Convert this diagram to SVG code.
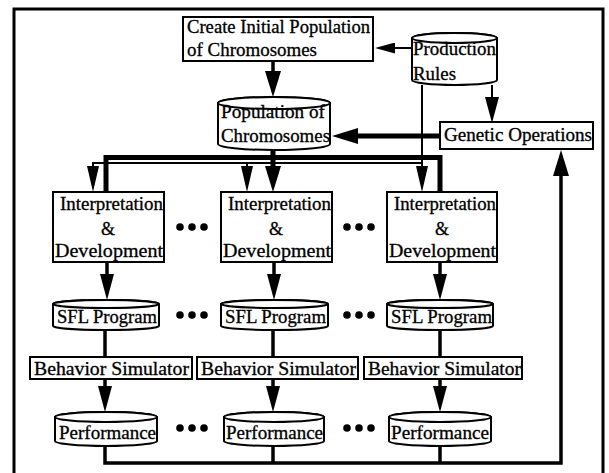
<svg xmlns="http://www.w3.org/2000/svg" width="609" height="473" viewBox="0 0 609 473">
<style>
.box{fill:#fff;stroke:#000;stroke-width:2}
.cyl{fill:#fff;stroke:#000;stroke-width:2}
text{font-family:"Liberation Serif","Times New Roman",serif;font-size:18px;fill:#000;stroke:#000;stroke-width:0.3}
.c{stroke:#000;fill:none;stroke-width:3.5}
.thick{stroke-width:5}
.thin{stroke-width:2}
.dot{fill:#000}
.frame{fill:none;stroke:#000;stroke-width:3}
</style>
<defs>
<marker id="ah" markerUnits="userSpaceOnUse" viewBox="0 0 26 14" refX="0" refY="7" markerWidth="26" markerHeight="14" orient="auto"><path d="M0,0 L26,7 L0,14 Z" fill="#000"/></marker>
<marker id="ahw" markerUnits="userSpaceOnUse" viewBox="0 0 26 16" refX="0" refY="8" markerWidth="26" markerHeight="16" orient="auto"><path d="M0,0 L26,8 L0,16 Z" fill="#000"/></marker>
<marker id="ahn" markerUnits="userSpaceOnUse" viewBox="0 0 26 12" refX="0" refY="6" markerWidth="26" markerHeight="12" orient="auto"><path d="M0,0 L26,6 L0,12 Z" fill="#000"/></marker>
<marker id="ahs" markerUnits="userSpaceOnUse" viewBox="0 0 20 11" refX="0" refY="5.5" markerWidth="20" markerHeight="11" orient="auto"><path d="M0,0 L20,5.5 L0,11 Z" fill="#000"/></marker>
</defs>

<path class="frame" d="M14,475 V9 H603 V475"/>

<g id="connectors">
  <path class="c" d="M273,61 V71" marker-end="url(#ahw)"/>
  <path class="c thin" d="M412,48 H395" marker-end="url(#ahs)"/>
  <path class="c thin" d="M422,85 V166" marker-end="url(#ahn)"/>
  <path class="c thin" d="M422,163 H93 V166" marker-end="url(#ahn)"/>
  <path class="c thin" d="M247,163 V166" marker-end="url(#ahn)"/>
  <path class="c thin" d="M492,85 V97" marker-end="url(#ah)"/>
  <path class="c thick" d="M440,136 H358" marker-end="url(#ahw)"/>
  <path class="c thick" d="M273,150 V166" marker-end="url(#ahw)"/>
  <path class="c thick" d="M106,192 V157.5 H440 V192"/>
  <path class="c" d="M107,262 V274" marker-end="url(#ah)"/>
  <path class="c" d="M274,262 V274" marker-end="url(#ah)"/>
  <path class="c" d="M440,262 V274" marker-end="url(#ah)"/>
  <path class="c" d="M105,330 V357"/>
  <path class="c" d="M273,330 V357"/>
  <path class="c" d="M440,330 V357"/>
  <path class="c" d="M105,379 V386" marker-end="url(#ah)"/>
  <path class="c" d="M273,379 V386" marker-end="url(#ah)"/>
  <path class="c" d="M440,379 V386" marker-end="url(#ah)"/>
  <path class="c" d="M105,446 V463 H561 V176" marker-end="url(#ahw)"/>
  <path class="c" d="M273,446 V463"/>
  <path class="c" d="M440,446 V463"/>
</g>

<g id="create">
  <rect class="box" x="183" y="17" width="190" height="44"/>
  <text x="187" y="33" textLength="183" lengthAdjust="spacingAndGlyphs">Create Initial Population</text>
  <text x="187" y="56" textLength="130" lengthAdjust="spacingAndGlyphs">of Chromosomes</text>
</g>

<g id="production-rules">
  <path class="cyl" d="M412,38 V80 A42.5,5 0 0 0 497,80 V38 A42.5,5 0 0 0 412,38 Z"/>
  <ellipse class="cyl" cx="454.5" cy="38" rx="42.5" ry="5"/>
  <text x="413" y="55" textLength="83" lengthAdjust="spacingAndGlyphs">Production</text>
  <text x="413" y="80" textLength="43" lengthAdjust="spacingAndGlyphs">Rules</text>
</g>

<g id="population">
  <path class="cyl" d="M218,103 V144 A56,6 0 0 0 330,144 V103 A56,6 0 0 0 218,103 Z"/>
  <ellipse class="cyl" cx="274" cy="103" rx="56" ry="6"/>
  <text x="221" y="118" textLength="104" lengthAdjust="spacingAndGlyphs">Population of</text>
  <text x="221" y="142" textLength="109" lengthAdjust="spacingAndGlyphs">Chromosomes</text>
</g>

<g id="genetic-operations">
  <rect class="box" x="440" y="122" width="153" height="27"/>
  <text x="444" y="141" textLength="148" lengthAdjust="spacingAndGlyphs">Genetic Operations</text>
</g>

<g id="interp-1">
  <rect class="box" x="53" y="192" width="111" height="70"/>
  <text x="60" y="210" textLength="103" lengthAdjust="spacingAndGlyphs">Interpretation</text>
  <text x="108" y="235" text-anchor="middle">&amp;</text>
  <text x="55" y="257" textLength="108" lengthAdjust="spacingAndGlyphs">Development</text>
</g>
<g id="interp-2">
  <rect class="box" x="221" y="192" width="111" height="70"/>
  <text x="228" y="210" textLength="103" lengthAdjust="spacingAndGlyphs">Interpretation</text>
  <text x="276" y="235" text-anchor="middle">&amp;</text>
  <text x="223" y="257" textLength="108" lengthAdjust="spacingAndGlyphs">Development</text>
</g>
<g id="interp-3">
  <rect class="box" x="387" y="192" width="110" height="70"/>
  <text x="394" y="210" textLength="102" lengthAdjust="spacingAndGlyphs">Interpretation</text>
  <text x="442" y="235" text-anchor="middle">&amp;</text>
  <text x="389" y="257" textLength="107" lengthAdjust="spacingAndGlyphs">Development</text>
</g>

<g id="sfl-1">
  <path class="cyl" d="M53,304 V326 A53,4 0 0 0 159,326 V304 A53,4 0 0 0 53,304 Z"/>
  <ellipse class="cyl" cx="106" cy="304" rx="53" ry="4"/>
  <text x="57" y="323" textLength="100" lengthAdjust="spacingAndGlyphs">SFL Program</text>
</g>
<g id="sfl-2">
  <path class="cyl" d="M221,304 V326 A53.5,4 0 0 0 328,326 V304 A53.5,4 0 0 0 221,304 Z"/>
  <ellipse class="cyl" cx="274.5" cy="304" rx="53.5" ry="4"/>
  <text x="225" y="323" textLength="101" lengthAdjust="spacingAndGlyphs">SFL Program</text>
</g>
<g id="sfl-3">
  <path class="cyl" d="M387,304 V326 A53,4 0 0 0 493,326 V304 A53,4 0 0 0 387,304 Z"/>
  <ellipse class="cyl" cx="440" cy="304" rx="53" ry="4"/>
  <text x="391" y="323" textLength="101" lengthAdjust="spacingAndGlyphs">SFL Program</text>
</g>

<g id="sim-1">
  <rect class="box" x="30" y="357" width="162" height="22"/>
  <text x="34" y="375" textLength="155" lengthAdjust="spacingAndGlyphs">Behavior Simulator</text>
</g>
<g id="sim-2">
  <rect class="box" x="197" y="357" width="161" height="22"/>
  <text x="201" y="375" textLength="155" lengthAdjust="spacingAndGlyphs">Behavior Simulator</text>
</g>
<g id="sim-3">
  <rect class="box" x="364" y="357" width="158" height="22"/>
  <text x="368" y="375" textLength="153" lengthAdjust="spacingAndGlyphs">Behavior Simulator</text>
</g>

<g id="perf-1">
  <path class="cyl" d="M55,417 V441 A51,5 0 0 0 157,441 V417 A51,5 0 0 0 55,417 Z"/>
  <ellipse class="cyl" cx="106" cy="417" rx="51" ry="5"/>
  <text x="59" y="439" textLength="97" lengthAdjust="spacingAndGlyphs">Performance</text>
</g>
<g id="perf-2">
  <path class="cyl" d="M224,417 V441 A50,5 0 0 0 324,441 V417 A50,5 0 0 0 224,417 Z"/>
  <ellipse class="cyl" cx="274" cy="417" rx="50" ry="5"/>
  <text x="226" y="439" textLength="97" lengthAdjust="spacingAndGlyphs">Performance</text>
</g>
<g id="perf-3">
  <path class="cyl" d="M389,417 V441 A51,5 0 0 0 491,441 V417 A51,5 0 0 0 389,417 Z"/>
  <ellipse class="cyl" cx="440" cy="417" rx="51" ry="5"/>
  <text x="391" y="439" textLength="98" lengthAdjust="spacingAndGlyphs">Performance</text>
</g>

<g id="ellipses">
  <circle class="dot" cx="180" cy="227" r="3.8"/><circle class="dot" cx="192" cy="227" r="3.8"/><circle class="dot" cx="204" cy="227" r="3.8"/>
  <circle class="dot" cx="347" cy="227" r="3.8"/><circle class="dot" cx="359" cy="227" r="3.8"/><circle class="dot" cx="371" cy="227" r="3.8"/>
  <circle class="dot" cx="180" cy="315" r="3.8"/><circle class="dot" cx="192" cy="315" r="3.8"/><circle class="dot" cx="204" cy="315" r="3.8"/>
  <circle class="dot" cx="347" cy="315" r="3.8"/><circle class="dot" cx="359" cy="315" r="3.8"/><circle class="dot" cx="371" cy="315" r="3.8"/>
  <circle class="dot" cx="180" cy="428" r="3.8"/><circle class="dot" cx="192" cy="428" r="3.8"/><circle class="dot" cx="204" cy="428" r="3.8"/>
  <circle class="dot" cx="347" cy="428" r="3.8"/><circle class="dot" cx="359" cy="428" r="3.8"/><circle class="dot" cx="371" cy="428" r="3.8"/>
</g>
</svg>
